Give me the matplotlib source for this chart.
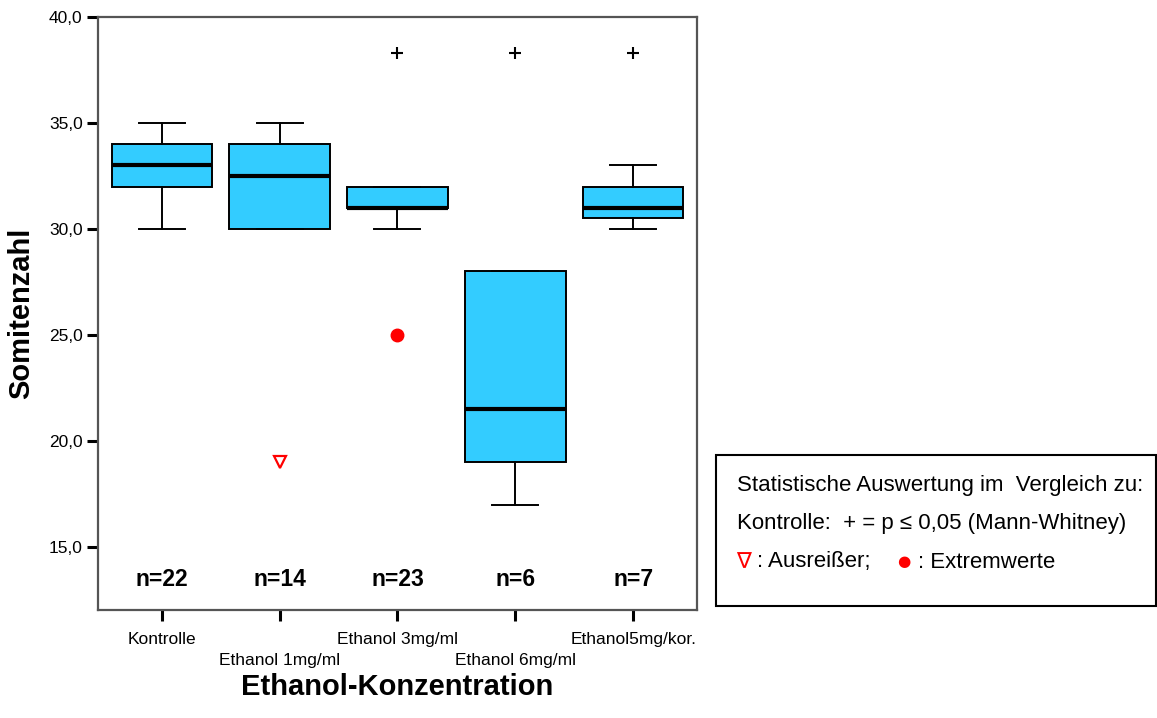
import matplotlib
matplotlib.use("Agg")
import matplotlib.pyplot as plt
from matplotlib.patches import Rectangle

plt.rcParams['font.family'] = ['Liberation Sans', 'DejaVu Sans']

categories = ["Kontrolle", "Ethanol 1mg/ml", "Ethanol 3mg/ml", "Ethanol 6mg/ml", "Ethanol5mg/kor."]
whisker_low = [30.0, 30.0, 30.0, 17.0, 30.0]
q1 = [32.0, 30.0, 31.0, 19.0, 30.5]
median = [33.0, 32.5, 31.0, 21.5, 31.0]
q3 = [34.0, 34.0, 32.0, 28.0, 32.0]
whisker_high = [35.0, 35.0, 32.0, 28.0, 33.0]
n_counts = [22, 14, 23, 6, 7]
outlier_group = [2]          # 1-based position
outlier_value = [19.0]
extreme_group = [3]
extreme_value = [25.0]
signif_group = [3, 4, 5]
signif_y = 38.3
n_label_y = 13.45
y_ticks = [15.0, 20.0, 25.0, 30.0, 35.0, 40.0]

fig = plt.figure(figsize=(11.57, 7.18), dpi=100)
ax = fig.add_axes([0.0847, 0.1504, 0.5177, 0.8259])

stats = []
for i, c in enumerate(categories):
    stats.append(dict(label=c, whislo=whisker_low[i], q1=q1[i], med=median[i],
                      q3=q3[i], whishi=whisker_high[i], fliers=[]))
ax.bxp(stats, positions=range(1, len(categories) + 1), widths=0.85,
       patch_artist=True, showfliers=False,
       boxprops=dict(facecolor='#33CCFF', edgecolor='black', linewidth=1.4),
       medianprops=dict(color='black', linewidth=3.0),
       whiskerprops=dict(color='black', linewidth=1.4),
       capprops=dict(color='black', linewidth=1.4),
       capwidths=0.39)

ax.plot(outlier_group, outlier_value, linestyle='none', marker='v', markersize=8,
        markerfacecolor='none', markeredgecolor='red', markeredgewidth=1.6)
ax.plot(extreme_group, extreme_value, linestyle='none', marker='o', markersize=9,
        color='red')
ax.plot(signif_group, [signif_y] * len(signif_group), linestyle='none', marker='+',
        markersize=8, markeredgewidth=1.5, color='black')

for i, n in enumerate(n_counts):
    ax.text(i + 1, n_label_y, f"n={n}", ha='center', va='center',
            fontsize=16.5, fontweight='bold')

ax.set_xlim(0.46, 5.54)
ax.set_ylim(12.03, 40.0)
ax.set_yticks(y_ticks)
ax.set_yticklabels([f"{v:.1f}".replace('.', ',') for v in y_ticks], fontsize=12.5)
ax.set_xticks(range(1, len(categories) + 1))
ax.set_xticklabels([("\n" + c) if i % 2 == 1 else c for i, c in enumerate(categories)],
                   fontsize=12.5, linespacing=1.45)
ax.tick_params(axis='both', direction='out', length=8, width=2.2, color='black')
ax.tick_params(axis='x', pad=8)
ax.tick_params(axis='y', pad=3)
for s in ax.spines.values():
    s.set_color('#555555')
    s.set_linewidth(1.6)

ax.set_ylabel("Somitenzahl", fontsize=21, fontweight='bold', labelpad=10)
ax.set_xlabel("Ethanol-Konzentration", fontsize=21, fontweight='bold', labelpad=4)

# annotation box
box = Rectangle((716 / 1157, 1 - 606 / 718), (1156 - 716) / 1157, (606 - 455) / 718,
                transform=fig.transFigure, facecolor='white', edgecolor='black',
                linewidth=1.5)
fig.patches.append(box)
fs = 16
fig.text(737 / 1157, 1 - 485 / 718, "Statistische Auswertung im  Vergleich zu:",
         fontsize=fs, va='center', ha='left')
fig.text(737 / 1157, 1 - 523 / 718, "Kontrolle:  + = p \u2264 0,05 (Mann-Whitney)",
         fontsize=fs, va='center', ha='left')
fig.text(736 / 1157, 1 - 562 / 718, "\u2207", color='red', fontsize=16, va='center',
         ha='left', family=['DejaVu Sans'])
fig.text(757 / 1157, 1 - 562 / 718, ": Ausrei\u00dfer;", fontsize=fs, va='center', ha='left')
fig.text(897 / 1157, 1 - 561 / 718, "\u25cf", color='red', fontsize=11, va='center', ha='left',
         family=['DejaVu Sans'])
fig.text(918 / 1157, 1 - 562 / 718, ": Extremwerte", fontsize=fs, va='center', ha='left')

fig.savefig("out.png", dpi=100)
